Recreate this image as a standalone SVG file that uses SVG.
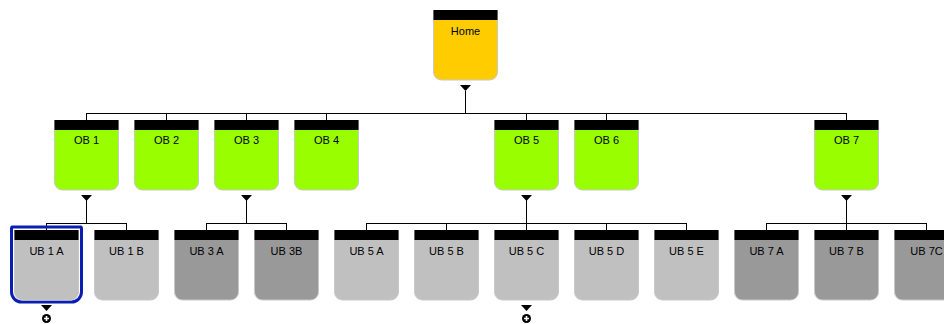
<svg xmlns="http://www.w3.org/2000/svg" width="944" height="324" viewBox="0 0 944 324">
<style>
.body{stroke:#c8c8c8;stroke-width:1}
.home{fill:#ffcc00}
.ob{fill:#99ff00}
.ul{fill:#c0c0c0}
.ud{fill:#999999}
.hdr{fill:#000}
.lbl{font-family:"Liberation Sans",Arial,sans-serif;font-size:11px;fill:#000;text-anchor:middle}
.ln{stroke:#000;stroke-width:1;fill:none}
.tri{fill:#000}
</style>
<defs>
<path id="shape" d="M0.5 0.5 H64.5 V62 A8 8 0 0 1 56.5 70 H8.5 A8 8 0 0 1 0.5 62 Z"/>
<polygon id="tri" points="-5.5,0 5.5,0 0,6"/>
<g id="plus">
<circle cx="0" cy="0" r="4.5" fill="#000"/>
<path d="M-2.5 0 H2.5 M0 -2.5 V2.5" stroke="#fff" stroke-width="1.6"/>
</g>
</defs>
<rect width="944" height="324" fill="#fff"/>
<g id="connectors">
<path class="ln" d="M465.5 91 V113.5 M86 113.5 H846.5 M86.5 113 V120 M166.5 113 V120 M246.5 113 V120 M326.5 113 V120 M526.5 113 V120 M606.5 113 V120 M846.5 113 V120"/>
<path class="ln" d="M86.5 200 V223.5 M46 223.5 H127 M46.5 223 V230 M126.5 223 V230"/>
<path class="ln" d="M246.5 200 V223.5 M206 223.5 H287 M206.5 223 V230 M286.5 223 V230"/>
<path class="ln" d="M526.5 200 V223.5 M366 223.5 H687 M366.5 223 V230 M446.5 223 V230 M526.5 223 V230 M606.5 223 V230 M686.5 223 V230"/>
<path class="ln" d="M846.5 200 V223.5 M766 223.5 H927 M766.5 223 V230 M846.5 223 V230 M926.5 223 V230"/>
<use href="#tri" x="465.5" y="85"/>
<use href="#tri" x="86.5" y="195"/>
<use href="#tri" x="246.5" y="195"/>
<use href="#tri" x="526.5" y="195"/>
<use href="#tri" x="846.5" y="195"/>
<use href="#tri" x="46.5" y="305"/>
<use href="#tri" x="526.5" y="305"/>
<use href="#plus" x="46.5" y="318.5"/>
<use href="#plus" x="526.5" y="318.5"/>
</g>
<g id="home" transform="translate(433,10)"><use href="#shape" class="body home"/><rect class="hdr" x="0.5" y="0" width="64" height="10"/><text class="lbl" x="32.5" y="25">Home</text></g>
<g id="ob1" transform="translate(54,120)"><use href="#shape" class="body ob"/><rect class="hdr" x="0.5" y="0" width="64" height="10"/><text class="lbl" x="32.5" y="24">OB 1</text></g>
<g id="ob2" transform="translate(134,120)"><use href="#shape" class="body ob"/><rect class="hdr" x="0.5" y="0" width="64" height="10"/><text class="lbl" x="32.5" y="24">OB 2</text></g>
<g id="ob3" transform="translate(214,120)"><use href="#shape" class="body ob"/><rect class="hdr" x="0.5" y="0" width="64" height="10"/><text class="lbl" x="32.5" y="24">OB 3</text></g>
<g id="ob4" transform="translate(294,120)"><use href="#shape" class="body ob"/><rect class="hdr" x="0.5" y="0" width="64" height="10"/><text class="lbl" x="32.5" y="24">OB 4</text></g>
<g id="ob5" transform="translate(494,120)"><use href="#shape" class="body ob"/><rect class="hdr" x="0.5" y="0" width="64" height="10"/><text class="lbl" x="32.5" y="24">OB 5</text></g>
<g id="ob6" transform="translate(574,120)"><use href="#shape" class="body ob"/><rect class="hdr" x="0.5" y="0" width="64" height="10"/><text class="lbl" x="32.5" y="24">OB 6</text></g>
<g id="ob7" transform="translate(814,120)"><use href="#shape" class="body ob"/><rect class="hdr" x="0.5" y="0" width="64" height="10"/><text class="lbl" x="32.5" y="24">OB 7</text></g>
<g id="ub1a" transform="translate(14,230)"><path d="M-2 -3 H67 Q67.5 -3 67.5 -1 V62 A10 10 0 0 1 57.5 72 H7.5 A10 10 0 0 1 -2.5 62 V-1 Q-2.5 -3 -2 -3 Z" fill="none" stroke="#0a1eb4" stroke-width="3"/><use href="#shape" class="body ul"/><rect class="hdr" x="0.5" y="0" width="64" height="10"/><text class="lbl" x="32.5" y="25">UB 1 A</text></g>
<g id="ub1b" transform="translate(94,230)"><use href="#shape" class="body ul"/><rect class="hdr" x="0.5" y="0" width="64" height="10"/><text class="lbl" x="32.5" y="25">UB 1 B</text></g>
<g id="ub3a" transform="translate(174,230)"><use href="#shape" class="body ud"/><rect class="hdr" x="0.5" y="0" width="64" height="10"/><text class="lbl" x="32.5" y="25">UB 3 A</text></g>
<g id="ub3b" transform="translate(254,230)"><use href="#shape" class="body ud"/><rect class="hdr" x="0.5" y="0" width="64" height="10"/><text class="lbl" x="32.5" y="25">UB 3B</text></g>
<g id="ub5a" transform="translate(334,230)"><use href="#shape" class="body ul"/><rect class="hdr" x="0.5" y="0" width="64" height="10"/><text class="lbl" x="32.5" y="25">UB 5 A</text></g>
<g id="ub5b" transform="translate(414,230)"><use href="#shape" class="body ul"/><rect class="hdr" x="0.5" y="0" width="64" height="10"/><text class="lbl" x="32.5" y="25">UB 5 B</text></g>
<g id="ub5c" transform="translate(494,230)"><use href="#shape" class="body ul"/><rect class="hdr" x="0.5" y="0" width="64" height="10"/><text class="lbl" x="32.5" y="25">UB 5 C</text></g>
<g id="ub5d" transform="translate(574,230)"><use href="#shape" class="body ul"/><rect class="hdr" x="0.5" y="0" width="64" height="10"/><text class="lbl" x="32.5" y="25">UB 5 D</text></g>
<g id="ub5e" transform="translate(654,230)"><use href="#shape" class="body ul"/><rect class="hdr" x="0.5" y="0" width="64" height="10"/><text class="lbl" x="32.5" y="25">UB 5 E</text></g>
<g id="ub7a" transform="translate(734,230)"><use href="#shape" class="body ud"/><rect class="hdr" x="0.5" y="0" width="64" height="10"/><text class="lbl" x="32.5" y="25">UB 7 A</text></g>
<g id="ub7b" transform="translate(814,230)"><use href="#shape" class="body ud"/><rect class="hdr" x="0.5" y="0" width="64" height="10"/><text class="lbl" x="32.5" y="25">UB 7 B</text></g>
<g id="ub7c" transform="translate(894,230)"><use href="#shape" class="body ud"/><rect class="hdr" x="0.5" y="0" width="64" height="10"/><text class="lbl" x="32.5" y="25">UB 7C</text></g>
</svg>
